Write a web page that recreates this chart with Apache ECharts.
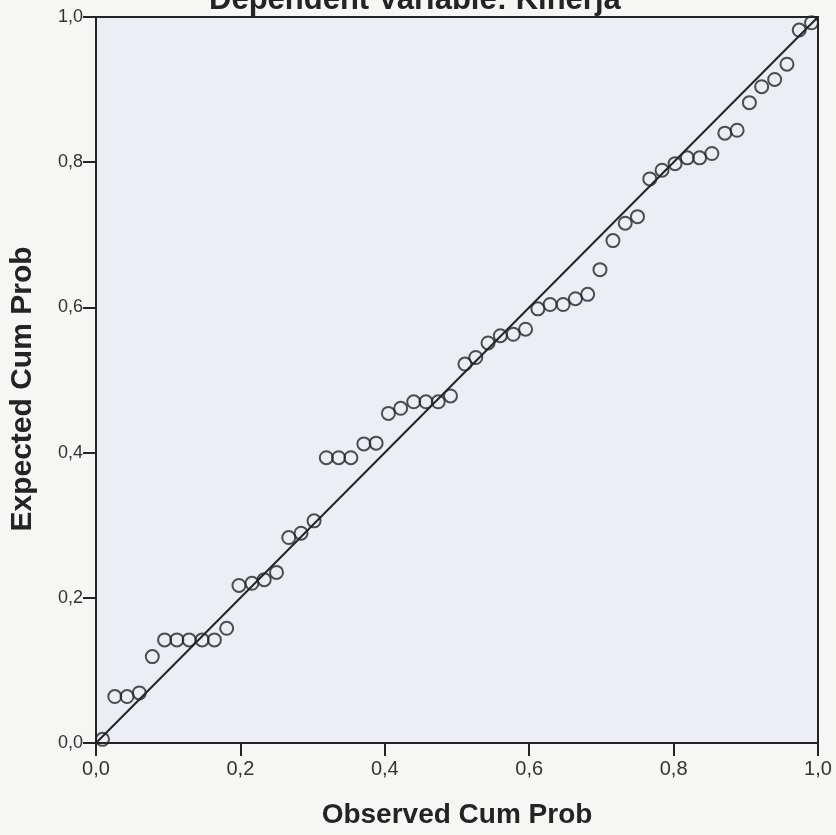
<!DOCTYPE html>
<html>
<head>
<meta charset="utf-8">
<script src="https://cdn.jsdelivr.net/npm/echarts@6/dist/echarts.min.js"></script>
<style>
  html, body { margin: 0; padding: 0; background: #f6f6f4; }
  #chart { width: 836px; height: 835px; }
</style>
</head>
<body>
<div id="chart"></div>
<script>
// Observed cumulative probabilities (x)
const observedCumProb = [
  0.009, 0.026, 0.043, 0.060, 0.078, 0.095, 0.112, 0.129, 0.147, 0.164,
  0.181, 0.198, 0.216, 0.233, 0.250, 0.267, 0.284, 0.302, 0.319, 0.336,
  0.353, 0.371, 0.388, 0.405, 0.422, 0.440, 0.457, 0.474, 0.491, 0.511,
  0.526, 0.543, 0.560, 0.578, 0.595, 0.612, 0.629, 0.647, 0.664, 0.681,
  0.698, 0.716, 0.733, 0.750, 0.767, 0.784, 0.802, 0.819, 0.836, 0.853,
  0.871, 0.888, 0.905, 0.922, 0.940, 0.957, 0.974, 0.991
];
// Expected cumulative probabilities (y)
const expectedCumProb = [
  0.005, 0.064, 0.064, 0.069, 0.119, 0.142, 0.142, 0.142, 0.142, 0.142,
  0.158, 0.217, 0.220, 0.225, 0.235, 0.283, 0.289, 0.306, 0.393, 0.393,
  0.393, 0.412, 0.413, 0.454, 0.461, 0.470, 0.470, 0.470, 0.478, 0.522,
  0.531, 0.551, 0.561, 0.563, 0.570, 0.598, 0.604, 0.604, 0.612, 0.618,
  0.652, 0.692, 0.716, 0.725, 0.777, 0.789, 0.798, 0.806, 0.806, 0.812,
  0.840, 0.844, 0.882, 0.904, 0.914, 0.935, 0.982, 0.992
];
// Reference diagonal
const diagonal = [[0, 0], [1, 1]];
const tickValues = [0, 0.2, 0.4, 0.6, 0.8, 1.0];

const points = observedCumProb.map((x, i) => [x, expectedCumProb[i]]);
const fmt = v => v.toFixed(1).replace('.', ',');
const FONT = '"Liberation Sans", Arial, sans-serif';
const INK = '#242424';

const chart = echarts.init(document.getElementById('chart'), null, { renderer: 'canvas' });
chart.setOption({
  backgroundColor: '#f6f6f4',
  animation: false,
  title: {
    text: 'Dependent Variable: Kinerja',
    left: 209,
    top: -15,
    padding: 0,
    textStyle: { fontFamily: FONT, fontSize: 31, fontWeight: 'bold', color: INK }
  },
  grid: {
    left: 96, right: 18, top: 17, bottom: 92,
    show: true,
    backgroundColor: '#eceef5',
    borderColor: INK,
    borderWidth: 2
  },
  xAxis: {
    type: 'value', min: 0, max: 1, interval: 0.2,
    name: 'Observed Cum Prob',
    nameLocation: 'middle',
    nameGap: 58,
    nameTextStyle: { fontFamily: FONT, fontSize: 28, fontWeight: 'bold', color: INK },
    axisLine: { show: true, lineStyle: { color: INK, width: 2 } },
    axisTick: { show: true, length: 13, lineStyle: { color: INK, width: 2 } },
    axisLabel: { margin: 16, fontFamily: FONT, fontSize: 20, color: '#333', formatter: fmt },
    splitLine: { show: false }
  },
  yAxis: {
    type: 'value', min: 0, max: 1, interval: 0.2,
    name: 'Expected Cum Prob',
    nameLocation: 'middle',
    nameGap: 58,
    nameTextStyle: { fontFamily: FONT, fontSize: 30, fontWeight: 'bold', color: INK, padding: [0, 0, 0, -18] },
    axisLine: { show: true, lineStyle: { color: INK, width: 2 } },
    axisTick: { show: true, length: 13, lineStyle: { color: INK, width: 2 } },
    axisLabel: { margin: 13, fontFamily: FONT, fontSize: 18, color: '#333', formatter: fmt },
    splitLine: { show: false }
  },
  series: [
    {
      type: 'line',
      data: diagonal,
      symbol: 'none',
      lineStyle: { color: INK, width: 2 },
      z: 2
    },
    {
      type: 'scatter',
      data: points,
      symbol: 'circle',
      symbolSize: 13,
      itemStyle: { color: 'rgba(0,0,0,0)', borderColor: INK, borderWidth: 2 },
      z: 3
    }
  ]
});
</script>
</body>
</html>
